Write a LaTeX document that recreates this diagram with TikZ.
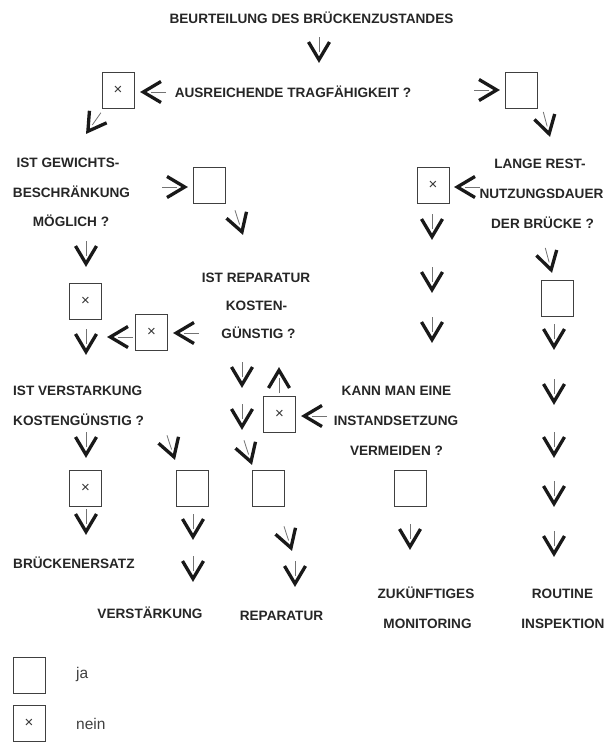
\documentclass[tikz,border=0pt]{standalone}
\usepackage{fontspec}
\setmainfont{Liberation Sans}
\begin{document}
\begin{tikzpicture}[x=1pt,y=-1pt,
  lbl/.style={font=\fontsize{13.6}{16}\selectfont\bfseries, text=black!85, inner sep=0pt, anchor=base},
  lbll/.style={lbl, anchor=base west},
  legtext/.style={font=\fontsize{15.5}{18}\selectfont, text=black!75, inner sep=0pt, anchor=base west},
  box/.style={draw=black!75, line width=1pt, minimum width=32pt, minimum height=36pt, inner sep=0pt,
              font=\fontsize{15}{15}\selectfont, text=black!80},
  stemline/.style={draw=black!55, line width=0.8pt},
  vline/.style={draw=black!90, line width=3.3pt, line join=miter, line cap=butt},
  chev/.pic={
    \draw[stemline] (0,-26) -- (0,-11);
    \draw[vline] (-10.5,-21) -- (0,-3.3) -- (10.5,-21);
  },
]
\useasboundingbox (0,0) rectangle (606,742);

% questions and outcomes
\node[lbl] (title) at (311.5,23) {BEURTEILUNG DES BRÜCKENZUSTANDES};
\node[lbl] (q1) at (293,97) {AUSREICHENDE TRAGFÄHIGKEIT ?};

\node[lbl] (q2a) at (68,167) {IST GEWICHTS-};
\node[lbl] (q2b) at (71.5,197) {BESCHRÄNKUNG};
\node[lbl] (q2c) at (71,226) {MÖGLICH ?};

\node[lbl] (q3a) at (540,168) {LANGE REST-};
\node[lbl] (q3b) at (541.5,198) {NUTZUNGSDAUER};
\node[lbl] (q3c) at (542.5,228) {DER BRÜCKE ?};

\node[lbl] (q4a) at (256,282) {IST REPARATUR};
\node[lbl] (q4b) at (256.5,310) {KOSTEN-};
\node[lbl] (q4c) at (258.5,338) {GÜNSTIG ?};

\node[lbll] (q5a) at (13,395) {IST VERSTARKUNG};
\node[lbll] (q5b) at (13,425) {KOSTENGÜNSTIG ?};

\node[lbl] (q6a) at (396.5,395) {KANN MAN EINE};
\node[lbl] (q6b) at (396,425) {INSTANDSETZUNG};
\node[lbl] (q6c) at (396.5,455) {VERMEIDEN ?};

\node[lbll] (r1) at (13,568) {BRÜCKENERSATZ};
\node[lbl] (r2) at (150,618) {VERSTÄRKUNG};
\node[lbl] (r3) at (281.5,620) {REPARATUR};
\node[lbl] (r4a) at (426,598) {ZUKÜNFTIGES};
\node[lbl] (r4b) at (427.5,628) {MONITORING};
\node[lbl] (r5a) at (562.5,598) {ROUTINE};
\node[lbl] (r5b) at (563,628) {INSPEKTION};

% answer boxes (x = nein, empty = ja)
\node[box] (b1) at (118,90.5) {×};
\node[box] (b2) at (521,90) {};
\node[box] (b3) at (209.5,185) {};
\node[box] (b4) at (433,185) {×};
\node[box] (b5) at (85.5,301) {×};
\node[box] (b6) at (151.5,332.5) {×};
\node[box] (b7) at (557,298.5) {};
\node[box] (b8) at (279.5,414.5) {×};
\node[box] (b9) at (85.5,488.5) {×};
\node[box] (b10) at (192,488.5) {};
\node[box] (b11) at (268.5,488.5) {};
\node[box] (b12) at (410.5,488) {};

% chevron arrows
\pic at (319,63) {chev};
\pic[rotate=-90] at (140,92) {chev};
\pic[rotate=90] at (500,90) {chev};
\pic[rotate=-35] at (86,134) {chev};
\pic[rotate=15] at (550,137) {chev};

\pic[rotate=90] at (188,187) {chev};
\pic[rotate=-90] at (454,187) {chev};
\pic[rotate=18] at (243,235) {chev};
\pic[rotate=15] at (552,273) {chev};

\pic at (432,240) {chev};
\pic at (432,293) {chev};
\pic at (432,343) {chev};

\pic at (86,267) {chev};
\pic at (86,355) {chev};
\pic[rotate=-90] at (107,337) {chev};
\pic[rotate=-90] at (173,333) {chev};

\pic at (242,388) {chev};
\pic at (242,430) {chev};
\pic[rotate=180] at (279,367) {chev};
\pic[rotate=-90] at (301,416) {chev};
\pic[rotate=18] at (252,465) {chev};

\pic at (86,458) {chev};
\pic at (86,535) {chev};
\pic[rotate=18] at (175,460) {chev};
\pic at (193,540) {chev};
\pic at (193,582) {chev};
\pic[rotate=18] at (292,551) {chev};
\pic at (295,587) {chev};
\pic at (410,550) {chev};

\pic at (554,350) {chev};
\pic at (554,405) {chev};
\pic at (554,458) {chev};
\pic at (554,507) {chev};
\pic at (554,557) {chev};

% legend
\node[box] (l1) at (29,675) {};
\node[legtext] (l1t) at (76,678) {ja};
\node[box] (l2) at (29,723) {×};
\node[legtext] (l2t) at (76,729) {nein};
\end{tikzpicture}
\end{document}
